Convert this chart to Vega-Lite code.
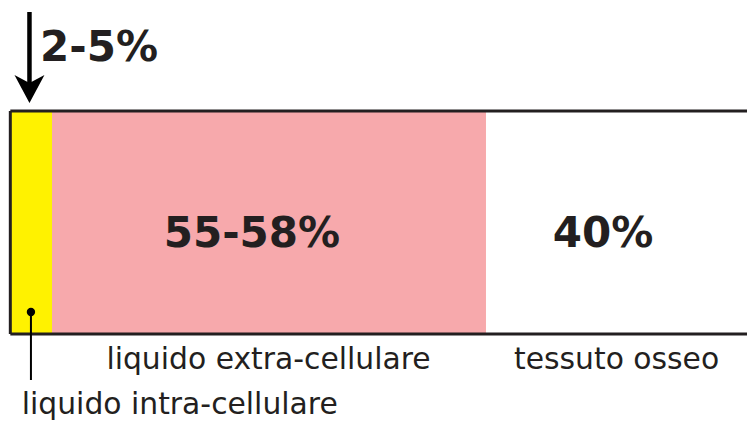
{
  "$schema": "https://vega.github.io/schema/vega-lite/v6.json",
  "width": 747,
  "height": 422,
  "padding": 0,
  "autosize": {"type": "none"},
  "background": "white",
  "config": {"view": {"stroke": null}, "text": {"font": "DejaVu Sans"}},
  "datasets": {
    "segments": [
      {"name": "liquido intra-cellulare", "start": 0, "end": 5.66},
      {"name": "liquido extra-cellulare", "start": 5.66, "end": 64.57},
      {"name": "tessuto osseo", "start": 64.57, "end": 100}
    ],
    "hrules": [
      {"x": 0, "x2": 100, "y": 111},
      {"x": 0, "x2": 100, "y": 334}
    ],
    "vrules": [
      {"x": 0, "y": 111, "y2": 334}
    ],
    "boldLeft": [
      {"label": "2-5%", "x": 4.03, "y": 61}
    ],
    "boldCenter": [
      {"label": "55-58%", "x": 32.8, "y": 247},
      {"label": "40%", "x": 80.45, "y": 247}
    ],
    "regular": [
      {"label": "liquido extra-cellulare", "x": 35.05, "y": 369},
      {"label": "tessuto osseo", "x": 82.3, "y": 369},
      {"label": "liquido intra-cellulare", "x": 23.0, "y": 414}
    ]
  },
  "layer": [
    {
      "data": {"name": "segments"},
      "mark": {"type": "rect"},
      "encoding": {
        "x": {"field": "start", "type": "quantitative", "scale": {"domain": [-1.4, 100], "nice": false, "zero": false}, "axis": null},
        "x2": {"field": "end"},
        "y": {"datum": 111, "type": "quantitative", "scale": {"domain": [0, 422], "reverse": true, "nice": false, "zero": false}, "axis": null},
        "y2": {"datum": 334},
        "color": {"field": "name", "type": "nominal", "legend": null,
          "scale": {"domain": ["liquido intra-cellulare", "liquido extra-cellulare", "tessuto osseo"], "range": ["#fff200", "#f7a9ac", "#ffffff"]}}
      }
    },
    {
      "data": {"name": "hrules"},
      "mark": {"type": "rule", "color": "#231f20", "strokeWidth": 3},
      "encoding": {
        "x": {"field": "x", "type": "quantitative"},
        "x2": {"field": "x2"},
        "y": {"field": "y", "type": "quantitative"}
      }
    },
    {
      "data": {"name": "vrules"},
      "mark": {"type": "rule", "color": "#231f20", "strokeWidth": 3},
      "encoding": {
        "x": {"field": "x", "type": "quantitative"},
        "y": {"field": "y", "type": "quantitative"},
        "y2": {"field": "y2"}
      }
    },
    {
      "data": {"values": [{"x": 2.6, "y": 12, "y2": 90}]},
      "mark": {"type": "rule", "color": "black", "strokeWidth": 4.5},
      "encoding": {
        "x": {"field": "x", "type": "quantitative"},
        "y": {"field": "y", "type": "quantitative"},
        "y2": {"field": "y2"}
      }
    },
    {
      "data": {"values": [{"x": 2.6, "y": 89}]},
      "mark": {"type": "point", "filled": true, "color": "black", "opacity": 1, "size": 900,
        "shape": "M0,0.93 L-1,-0.93 L0,-0.4 L1,-0.93 Z"},
      "encoding": {
        "x": {"field": "x", "type": "quantitative"},
        "y": {"field": "y", "type": "quantitative"}
      }
    },
    {
      "data": {"values": [{"x": 2.8, "y": 312, "y2": 380}]},
      "mark": {"type": "rule", "color": "black", "strokeWidth": 2},
      "encoding": {
        "x": {"field": "x", "type": "quantitative"},
        "y": {"field": "y", "type": "quantitative"},
        "y2": {"field": "y2"}
      }
    },
    {
      "data": {"values": [{"x": 2.8, "y": 312}]},
      "mark": {"type": "point", "filled": true, "color": "black", "opacity": 1, "size": 70, "shape": "circle"},
      "encoding": {
        "x": {"field": "x", "type": "quantitative"},
        "y": {"field": "y", "type": "quantitative"}
      }
    },
    {
      "data": {"name": "boldLeft"},
      "mark": {"type": "text", "fontSize": 42, "fontWeight": "bold", "color": "#231f20", "baseline": "alphabetic", "align": "left"},
      "encoding": {
        "x": {"field": "x", "type": "quantitative"},
        "y": {"field": "y", "type": "quantitative"},
        "text": {"field": "label"}
      }
    },
    {
      "data": {"name": "boldCenter"},
      "mark": {"type": "text", "fontSize": 42, "fontWeight": "bold", "color": "#231f20", "baseline": "alphabetic", "align": "center"},
      "encoding": {
        "x": {"field": "x", "type": "quantitative"},
        "y": {"field": "y", "type": "quantitative"},
        "text": {"field": "label"}
      }
    },
    {
      "data": {"name": "regular"},
      "mark": {"type": "text", "fontSize": 29.8, "color": "#231f20", "baseline": "alphabetic", "align": "center"},
      "encoding": {
        "x": {"field": "x", "type": "quantitative"},
        "y": {"field": "y", "type": "quantitative"},
        "text": {"field": "label"}
      }
    }
  ]
}
